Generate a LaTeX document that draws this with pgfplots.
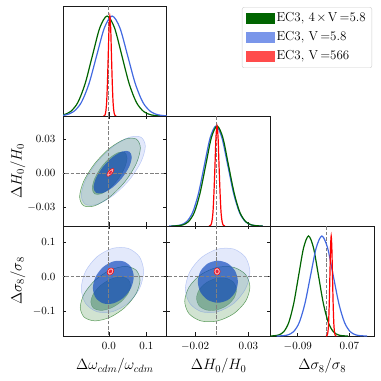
\RequirePackage{fix-cm}
\documentclass[border=0pt]{standalone}
\usepackage{fontspec}
\usepackage{pgfplots}
\pgfplotsset{compat=1.18}

\definecolor{cgreen}{HTML}{006400}
\definecolor{cblue}{HTML}{4169E1}
\definecolor{cbluein}{RGB}{10,68,188}
\definecolor{credin}{HTML}{E8243C}
\definecolor{credout}{HTML}{F4B4BC}
\definecolor{spine}{HTML}{1A1A1A}
\definecolor{fid}{HTML}{808080}

\pgfplotsset{
  panel/.style={
    scale only axis, width=103.7pt, height=110pt, anchor=south west,
    scaled ticks=false,
    axis line style={spine, line width=0.8pt},
    tick align=inside, major tick length=3.5pt,
    tick style={spine, line width=0.6pt},
    tick label style={font=\fontsize{11}{13}\selectfont},
    xticklabel style={yshift=-3pt},
    yticklabel style={xshift=-4pt},
    label style={font=\fontsize{15}{18}\selectfont},
    xlabel style={at={(axis description cs:0.5,-0.273)}, anchor=center},
    ylabel style={at={(axis description cs:-0.434,0.5)}, anchor=center},
  },
  diag/.style={panel, ymin=0, ymax=1.1, ytick=\empty, xtick pos=left},
  fidl/.style={fid, line width=0.7pt, dash pattern=on 3.7pt off 1.6pt},
  gout/.style={smooth cycle, fill=cgreen, fill opacity=0.18, draw=cgreen, draw opacity=0.6, line width=0.5pt},
  gin/.style={smooth cycle, fill=cgreen, fill opacity=0.33, draw=cgreen, draw opacity=0.35, line width=0.4pt},
  bout/.style={smooth cycle, fill=cblue, fill opacity=0.15, draw=cblue, draw opacity=0.3, line width=0.5pt},
  bin/.style={smooth cycle, fill=cbluein, fill opacity=0.66, draw=none},
  rout/.style={smooth cycle, fill=credout, draw=red, line width=0.5pt},
  rin/.style={smooth cycle, fill=credin, draw=none},
  gline/.style={smooth, cgreen, line width=1.2pt},
  bline/.style={smooth, cblue, line width=1.2pt},
  rline/.style={smooth, red, line width=1.2pt},
}

\begin{document}
\begin{tikzpicture}
\useasboundingbox (0,0) rectangle (381pt,381pt);

% ---- (1,1) omega_cdm marginal + legend
\begin{axis}[diag, at={(63pt,265pt)},
  xmin=-0.122, xmax=0.154, xtick={0,0.1}, xticklabels={},
  legend style={at={(2.98,0.99)}, anchor=north east, draw=black!20, rounded corners=2pt,
    fill=white, font=\fontsize{13}{15}\selectfont, row sep=4.5pt, inner xsep=4pt, inner ysep=4pt,
    nodes={inner ysep=1.5pt, text height=9pt, text depth=2.5pt},
    /tikz/every even column/.append style={column sep=7pt}},
  legend cell align=left]
\addlegendimage{legend image code/.code={\fill[cgreen, sharp corners] (0pt,-5pt) rectangle (28pt,5pt);}}
\addlegendentry{EC3, $4\mkern2mu{\times}\mkern2mu\mathrm{V}\,{=}5.8$}
\addlegendimage{legend image code/.code={\fill[cblue!70, sharp corners] (0pt,-5pt) rectangle (28pt,5pt);}}
\addlegendentry{EC3, $\mathrm{V}\,{=}5.8$}
\addlegendimage{legend image code/.code={\fill[red!70, sharp corners] (0pt,-5pt) rectangle (28pt,5pt);}}
\addlegendentry{EC3, $\mathrm{V}\,{=}566$}
\addplot[fidl, forget plot] coordinates {(0,0) (0,1.1)};
\addplot[gline, forget plot] coordinates {(-0.1605,0.0003) (-0.1410,0.0022) (-0.1215,0.0111) (-0.1020,0.0439) (-0.0825,0.1353) (-0.0630,0.3247) (-0.0435,0.6065) (-0.0240,0.8825) (-0.0045,1) (0.0150,0.8825) (0.0345,0.6065) (0.0540,0.3247) (0.0735,0.1353) (0.0930,0.0439) (0.1125,0.0111) (0.1320,0.0022) (0.1515,0.0003)};
\addplot[bline, forget plot] coordinates {(-0.1552,0.0003) (-0.1347,0.0022) (-0.1142,0.0111) (-0.0937,0.0439) (-0.0732,0.1353) (-0.0527,0.3247) (-0.0322,0.6065) (-0.0117,0.8825) (0.0088,1) (0.0293,0.8825) (0.0498,0.6065) (0.0703,0.3247) (0.0908,0.1353) (0.1113,0.0439) (0.1318,0.0111) (0.1523,0.0022) (0.1728,0.0003)};
\addplot[rline, forget plot] coordinates {(-0.0145,0.0003) (-0.0124,0.0022) (-0.0102,0.0111) (-0.0081,0.0439) (-0.0059,0.1353) (-0.0038,0.3247) (-0.0016,0.6065) (0.0006,0.8825) (0.0027,1) (0.0049,0.8825) (0.0070,0.6065) (0.0092,0.3247) (0.0113,0.1353) (0.0135,0.0439) (0.0156,0.0111) (0.0178,0.0022) (0.0199,0.0003)};
\end{axis}

% ---- (2,1) omega_cdm vs H0
\begin{axis}[panel, at={(63pt,155pt)},
  xmin=-0.122, xmax=0.154, xtick={0,0.1}, xticklabels={},
  ymin=-0.0467, ymax=0.0506, ytick={-0.03,0,0.03}, yticklabels={$-0.03$,$0.00$,$0.03$},
  ylabel={$\Delta H_0/H_0$}]
\addplot[gout] coordinates {(0.0840,0.0223) (0.0732,0.0302) (0.0436,0.0302) (0.0031,0.0223) (-0.0374,0.0086) (-0.0670,-0.0072) (-0.0778,-0.0209) (-0.0670,-0.0288) (-0.0374,-0.0288) (0.0031,-0.0209) (0.0436,-0.0072) (0.0732,0.0086)};
\addplot[gin] coordinates {(0.0486,0.0134) (0.0424,0.0183) (0.0254,0.0183) (0.0022,0.0134) (-0.0210,0.0049) (-0.0380,-0.0049) (-0.0442,-0.0134) (-0.0380,-0.0183) (-0.0210,-0.0183) (0.0022,-0.0134) (0.0254,-0.0049) (0.0424,0.0049)};
\addplot[bout] coordinates {(0.0972,0.0238) (0.0858,0.0318) (0.0546,0.0318) (0.0119,0.0238) (-0.0308,0.0101) (-0.0620,-0.0059) (-0.0734,-0.0196) (-0.0620,-0.0276) (-0.0308,-0.0276) (0.0119,-0.0196) (0.0546,-0.0059) (0.0858,0.0101)};
\addplot[bin] coordinates {(0.0610,0.0143) (0.0542,0.0192) (0.0356,0.0192) (0.0102,0.0143) (-0.0152,0.0058) (-0.0338,-0.0040) (-0.0406,-0.0125) (-0.0338,-0.0174) (-0.0152,-0.0174) (0.0102,-0.0125) (0.0356,-0.0040) (0.0542,0.0058)};
\addplot[fidl] coordinates {(0,-0.06) (0,0.06)};
\addplot[fidl] coordinates {(-0.13,0) (0.16,0)};
\addplot[rout] coordinates {(0.0133,0.0031) (0.0121,0.0040) (0.0087,0.0040) (0.0040,0.0031) (-0.0007,0.0016) (-0.0041,-0.0002) (-0.0053,-0.0017) (-0.0041,-0.0026) (-0.0007,-0.0026) (0.0040,-0.0017) (0.0087,-0.0002) (0.0121,0.0016)};
\addplot[rin] coordinates {(0.0085,0.0019) (0.0079,0.0023) (0.0063,0.0023) (0.0040,0.0019) (0.0018,0.0011) (0.0001,0.0003) (-0.0005,-0.0005) (0.0001,-0.0009) (0.0018,-0.0009) (0.0040,-0.0005) (0.0063,0.0003) (0.0079,0.0011)};
\end{axis}

% ---- (2,2) H0 marginal
\begin{axis}[diag, at={(166.7pt,155pt)},
  xmin=-0.0467, xmax=0.0506, xtick={-0.02,0.03}, xticklabels={}]
\addplot[fidl] coordinates {(0,0) (0,1.1)};
\addplot[bline] coordinates {(-0.0444,0.0003) (-0.0389,0.0022) (-0.0334,0.0111) (-0.0279,0.0439) (-0.0224,0.1353) (-0.0169,0.3247) (-0.0114,0.6065) (-0.0059,0.8825) (-0.0004,1) (0.0051,0.8825) (0.0106,0.6065) (0.0161,0.3247) (0.0216,0.1353) (0.0271,0.0439) (0.0326,0.0111) (0.0381,0.0022) (0.0436,0.0003)};
\addplot[gline] coordinates {(-0.0422,0.0003) (-0.0369,0.0022) (-0.0315,0.0111) (-0.0262,0.0439) (-0.0208,0.1353) (-0.0155,0.3247) (-0.0101,0.6065) (-0.0048,0.8825) (0.0006,1) (0.0060,0.8825) (0.0113,0.6065) (0.0167,0.3247) (0.0220,0.1353) (0.0274,0.0439) (0.0327,0.0111) (0.0381,0.0022) (0.0434,0.0003)};
\addplot[rline] coordinates {(-0.0071,0.0003) (-0.0062,0.0022) (-0.0052,0.0111) (-0.0043,0.0439) (-0.0033,0.1353) (-0.0024,0.3247) (-0.0014,0.6065) (-0.0005,0.8825) (0.0005,1) (0.0015,0.8825) (0.0024,0.6065) (0.0034,0.3247) (0.0043,0.1353) (0.0053,0.0439) (0.0062,0.0111) (0.0072,0.0022) (0.0081,0.0003)};
\end{axis}

% ---- (3,1) omega_cdm vs sigma8
\begin{axis}[panel, at={(63pt,45pt)},
  xmin=-0.122, xmax=0.154, xtick={0,0.1}, xticklabels={$0.0$,$0.1$},
  ymin=-0.172, ymax=0.146, ytick={-0.1,0,0.1}, yticklabels={$-0.1$,$0.0$,$0.1$},
  xlabel={$\Delta\omega_{cdm}/\omega_{cdm}$}, ylabel={$\Delta\sigma_8/\sigma_8$}]
\addplot[gout] coordinates {(0.0831,-0.0103) (0.0724,0.0186) (0.0433,0.0291) (0.0035,0.0186) (-0.0363,-0.0103) (-0.0654,-0.0496) (-0.0761,-0.0890) (-0.0654,-0.1178) (-0.0363,-0.1283) (0.0035,-0.1178) (0.0433,-0.0890) (0.0724,-0.0496)};
\addplot[gin] coordinates {(0.0580,-0.0253) (0.0509,-0.0075) (0.0315,-0.0010) (0.0050,-0.0075) (-0.0215,-0.0253) (-0.0409,-0.0496) (-0.0480,-0.0739) (-0.0409,-0.0917) (-0.0215,-0.0982) (0.0050,-0.0917) (0.0315,-0.0739) (0.0509,-0.0496)};
\addplot[bout] coordinates {(0.0928,0.0144) (0.0817,0.0568) (0.0513,0.0814) (0.0097,0.0814) (-0.0319,0.0568) (-0.0623,0.0144) (-0.0734,-0.0348) (-0.0623,-0.0772) (-0.0319,-0.1018) (0.0097,-0.1018) (0.0513,-0.0772) (0.0817,-0.0348)};
\addplot[bin] coordinates {(0.0663,-0.0008) (0.0590,0.0273) (0.0391,0.0436) (0.0119,0.0436) (-0.0153,0.0273) (-0.0352,-0.0008) (-0.0425,-0.0332) (-0.0352,-0.0613) (-0.0153,-0.0776) (0.0119,-0.0776) (0.0391,-0.0613) (0.0590,-0.0332)};
\addplot[fidl] coordinates {(0,-0.2) (0,0.2)};
\addplot[fidl] coordinates {(-0.13,0) (0.16,0)};
\addplot[rout] coordinates {(0.0132,0.0172) (0.0120,0.0218) (0.0088,0.0245) (0.0044,0.0245) (0.0000,0.0218) (-0.0032,0.0172) (-0.0044,0.0120) (-0.0032,0.0074) (0.0000,0.0048) (0.0044,0.0048) (0.0088,0.0074) (0.0120,0.0120)};
\addplot[rin] coordinates {(0.0089,0.0160) (0.0083,0.0183) (0.0067,0.0196) (0.0044,0.0196) (0.0022,0.0183) (0.0005,0.0160) (-0.0001,0.0133) (0.0005,0.0109) (0.0022,0.0096) (0.0044,0.0096) (0.0067,0.0109) (0.0083,0.0133)};
\end{axis}

% ---- (3,2) H0 vs sigma8
\begin{axis}[panel, at={(166.7pt,45pt)},
  xmin=-0.0467, xmax=0.0506, xtick={-0.02,0.03}, xticklabels={$-0.02$,$0.03$},
  ymin=-0.172, ymax=0.146, ytick={-0.1,0,0.1}, yticklabels={},
  xlabel={$\Delta H_0/H_0$}]
\addplot[gout] coordinates {(0.0314,-0.0302) (0.0273,0.0057) (0.0161,0.0265) (0.0008,0.0265) (-0.0145,0.0057) (-0.0257,-0.0302) (-0.0298,-0.0718) (-0.0257,-0.1077) (-0.0145,-0.1285) (0.0008,-0.1285) (0.0161,-0.1077) (0.0273,-0.0718)};
\addplot[gin] coordinates {(0.0188,-0.0387) (0.0163,-0.0174) (0.0094,-0.0051) (0.0000,-0.0051) (-0.0094,-0.0174) (-0.0163,-0.0387) (-0.0188,-0.0633) (-0.0163,-0.0846) (-0.0094,-0.0969) (0.0000,-0.0969) (0.0094,-0.0846) (0.0163,-0.0633)};
\addplot[bout] coordinates {(0.0314,0.0131) (0.0273,0.0551) (0.0163,0.0794) (0.0011,0.0794) (-0.0141,0.0551) (-0.0251,0.0131) (-0.0292,-0.0355) (-0.0251,-0.0775) (-0.0141,-0.1018) (0.0011,-0.1018) (0.0163,-0.0775) (0.0273,-0.0355)};
\addplot[bin] coordinates {(0.0201,-0.0151) (0.0176,0.0153) (0.0107,0.0376) (0.0013,0.0457) (-0.0081,0.0376) (-0.0150,0.0153) (-0.0175,-0.0151) (-0.0150,-0.0455) (-0.0081,-0.0678) (0.0013,-0.0759) (0.0107,-0.0678) (0.0176,-0.0455)};
\addplot[fidl] coordinates {(0,-0.2) (0,0.2)};
\addplot[fidl] coordinates {(-0.06,0) (0.06,0)};
\addplot[rout] coordinates {(0.0034,0.0146) (0.0030,0.0197) (0.0020,0.0234) (0.0006,0.0248) (-0.0008,0.0234) (-0.0018,0.0197) (-0.0022,0.0146) (-0.0018,0.0095) (-0.0008,0.0058) (0.0006,0.0044) (0.0020,0.0058) (0.0030,0.0095)};
\addplot[rin] coordinates {(0.0020,0.0146) (0.0018,0.0172) (0.0013,0.0191) (0.0006,0.0198) (-0.0001,0.0191) (-0.0006,0.0172) (-0.0008,0.0146) (-0.0006,0.0120) (-0.0001,0.0101) (0.0006,0.0094) (0.0013,0.0101) (0.0018,0.0120)};
\end{axis}

% ---- (3,3) sigma8 marginal
\begin{axis}[diag, at={(270.3pt,45pt)},
  xmin=-0.175, xmax=0.146, xtick={-0.09,0.07}, xticklabels={$-0.09$,$0.07$},
  xlabel={$\Delta\sigma_8/\sigma_8$}]
\addplot[fidl] coordinates {(0,0) (0,1.1)};
\addplot[gline] coordinates {(-0.1790,0.0003) (-0.1637,0.0022) (-0.1484,0.0111) (-0.1331,0.0439) (-0.1178,0.1353) (-0.1025,0.3247) (-0.0872,0.6065) (-0.0719,0.8825) (-0.0566,1) (-0.0413,0.8825) (-0.0260,0.6065) (-0.0107,0.3247) (0.0046,0.1353) (0.0199,0.0439) (0.0352,0.0111) (0.0505,0.0022) (0.0658,0.0003)};
\addplot[bline] coordinates {(-0.1553,0.0003) (-0.1378,0.0022) (-0.1203,0.0111) (-0.1028,0.0439) (-0.0853,0.1353) (-0.0678,0.3247) (-0.0503,0.6065) (-0.0328,0.8825) (-0.0153,1) (0.0022,0.8825) (0.0197,0.6065) (0.0372,0.3247) (0.0547,0.1353) (0.0722,0.0439) (0.0897,0.0111) (0.1072,0.0022) (0.1247,0.0003)};
\addplot[rline] coordinates {(-0.0025,0.0003) (-0.0005,0.0022) (0.0015,0.0111) (0.0035,0.0439) (0.0055,0.1353) (0.0075,0.3247) (0.0095,0.6065) (0.0115,0.8825) (0.0135,1) (0.0155,0.8825) (0.0175,0.6065) (0.0195,0.3247) (0.0215,0.1353) (0.0235,0.0439) (0.0255,0.0111) (0.0275,0.0022) (0.0295,0.0003)};
\end{axis}
\end{tikzpicture}
\end{document}
